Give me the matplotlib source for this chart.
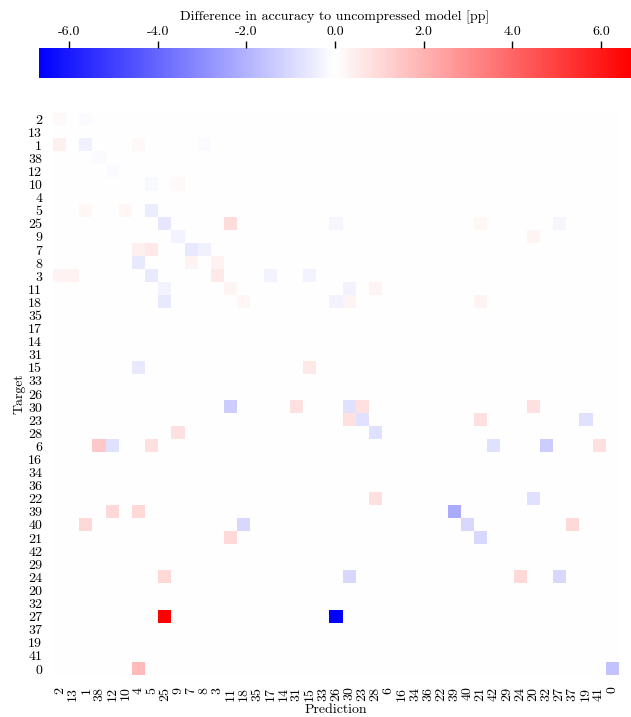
import numpy as np
import matplotlib
matplotlib.use("Agg")
import matplotlib.pyplot as plt
from matplotlib.colors import Normalize

plt.rcParams['font.family'] = ['cmr10', 'DejaVu Serif']
plt.rcParams['mathtext.fontset'] = 'cm'
plt.rcParams['axes.unicode_minus'] = False
plt.rcParams['font.size'] = 10

# Class order (same for rows and columns)
labels = [2, 13, 1, 38, 12, 10, 4, 5, 25, 9, 7, 8, 3, 11, 18, 35, 17, 14, 31, 15,
          33, 26, 30, 23, 28, 6, 16, 34, 36, 22, 39, 40, 21, 42, 29, 24, 20, 32,
          27, 37, 19, 41, 0]

# Non-zero cells: target class, predicted class, difference [pp]
targets = [2, 2, 1, 1, 1, 1, 38, 12, 10, 10, 5, 5, 5,
           25, 25, 25, 25, 25, 9, 9, 7, 7, 7, 7, 8, 8, 8,
           3, 3, 3, 3, 3, 3, 11, 11, 11, 11, 18, 18, 18, 18, 18,
           15, 15, 30, 30, 30, 30, 30, 23, 23, 23, 23, 28, 28,
           6, 6, 6, 6, 6, 6, 22, 22, 39, 39, 39, 40, 40, 40, 40,
           21, 21, 24, 24, 24, 24, 27, 27, 0, 0]
preds = [2, 1, 2, 1, 4, 8, 38, 12, 5, 9, 1, 10, 5,
         25, 11, 26, 21, 27, 9, 20, 4, 5, 7, 8, 4, 7, 3,
         2, 13, 5, 3, 17, 15, 25, 11, 30, 28, 25, 18, 26, 30, 21,
         4, 15, 11, 31, 30, 23, 20, 30, 23, 21, 19, 9, 28,
         38, 12, 5, 42, 32, 41, 28, 20, 12, 4, 39, 1, 18, 40, 37,
         11, 21, 25, 30, 24, 27, 25, 26, 4, 0]
diffs = [0.2, -0.15, 0.4, -0.4, 0.2, -0.15, -0.15, -0.15, -0.2, 0.2, 0.25, 0.25, -0.5,
         -0.65, 0.9, -0.25, 0.25, -0.25, -0.3, 0.3, 0.4, 0.6, -0.6, -0.4, -0.6, 0.3, 0.35,
         0.35, 0.35, -0.55, 0.6, -0.3, -0.3, -0.3, 0.3, -0.3, 0.3, -0.6, 0.25, -0.3, 0.3, 0.3,
         -0.6, 0.6, -1.35, 0.8, -0.8, 0.8, 0.8, 0.8, -0.8, 0.8, -0.8, 0.8, -0.8,
         1.45, -0.8, 0.8, -0.8, -1.35, 0.8, 0.8, -0.8, 1.0, 1.0, -2.2, 1.0, -1.0, -1.0, 1.0,
         1.0, -1.0, 1.0, -1.0, 1.0, -1.0, 6.68, -6.68, 1.8, -1.6]

n = len(labels)
idx = {c: i for i, c in enumerate(labels)}
mat = np.zeros((n, n))
for t, p, d in zip(targets, preds, diffs):
    mat[idx[t], idx[p]] = d

vmax = np.abs(mat).max()
norm = Normalize(vmin=-vmax, vmax=vmax)

fig = plt.figure(figsize=(6.31, 7.17), dpi=100)
ax = fig.add_axes([53.4 / 631, 1 - 675.5 / 717, (618.6 - 53.4) / 631, (675.5 - 112.5) / 717])
im = ax.imshow(mat, cmap='bwr', norm=norm, aspect='auto', interpolation='nearest')
ax.set_xticks(np.arange(n))
ax.set_yticks(np.arange(n))
ax.set_xticklabels([str(c) for c in labels], rotation=90)
ax.set_yticklabels([str(c) for c in labels])
ax.tick_params(length=0, pad=8)
for s in ax.spines.values():
    s.set_visible(False)
ax.set_xlabel('Prediction', labelpad=2)
ax.set_ylabel('Target', labelpad=2)

cax = fig.add_axes([39 / 631, 1 - 78 / 717, (631 - 39) / 631, 30 / 717])
cb = fig.colorbar(im, cax=cax, orientation='horizontal')
cb.outline.set_visible(False)
cax.xaxis.set_ticks_position('top')
cax.xaxis.set_label_position('top')
ticks = [-6.0, -4.0, -2.0, 0.0, 2.0, 4.0, 6.0]
cb.set_ticks(ticks)
cb.set_ticklabels([f'{t:.1f}' for t in ticks])
cax.tick_params(length=5, width=1, pad=2)
cb.set_label('Difference in accuracy to uncompressed model [pp]', labelpad=4)

fig.savefig('out.png', dpi=100)
